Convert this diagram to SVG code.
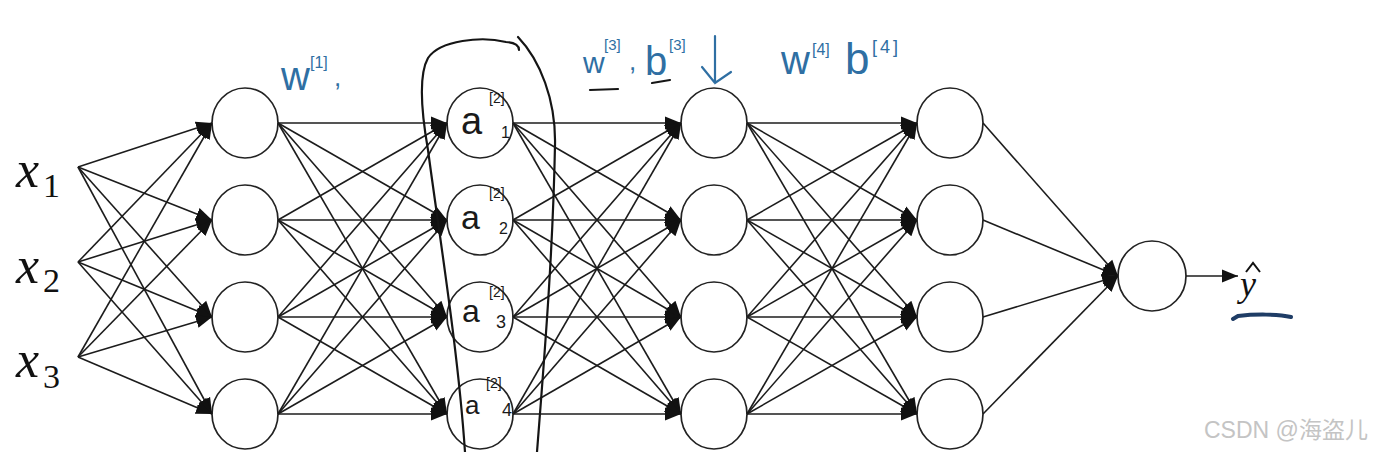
<svg xmlns="http://www.w3.org/2000/svg" width="1388" height="452" viewBox="0 0 1388 452">
<style>
.node{fill:#fff;stroke:#222;stroke-width:1.7}
.edge{stroke:#1c1c1c;stroke-width:1.6;fill:none;marker-end:url(#ah)}
.xl{font-family:"Liberation Serif",serif;font-style:italic;font-size:52px;fill:#111}
.sub{font-family:"Liberation Serif",serif;font-size:34px;fill:#111}
.hw{font-family:"Liberation Sans",sans-serif;fill:#2f6fa3}
.hk{font-family:"Liberation Sans",sans-serif;fill:#1a1a1a}
.pen{fill:none;stroke:#151515;stroke-width:2.2;stroke-linecap:round}
.bpen{fill:none;stroke:#2f6fa3;stroke-width:2.2;stroke-linecap:round}
</style>
<defs>
<marker id="ah" markerUnits="userSpaceOnUse" markerWidth="17" markerHeight="15" refX="16" refY="7.5" orient="auto">
<path d="M0,1 L16,7.5 L0,14 z" fill="#111"/>
</marker>
</defs>
<rect width="1388" height="452" fill="#fff"/>

<g id="inputs">
<text class="xl" x="16" y="187">x</text><text class="sub" x="43" y="197">1</text>
<text class="xl" x="16" y="283">x</text><text class="sub" x="43" y="292">2</text>
<text class="xl" x="16" y="377">x</text><text class="sub" x="43" y="388">3</text>
</g>

<g id="layer1">
<ellipse class="node" cx="245" cy="123" rx="33" ry="35"/>
<ellipse class="node" cx="245" cy="220" rx="33" ry="35"/>
<ellipse class="node" cx="245" cy="317" rx="33" ry="35"/>
<ellipse class="node" cx="245" cy="414" rx="33" ry="35"/>
</g>
<g id="layer2">
<ellipse class="node" cx="480" cy="123" rx="33" ry="35"/>
<ellipse class="node" cx="480" cy="220" rx="33" ry="35"/>
<ellipse class="node" cx="480" cy="317" rx="33" ry="35"/>
<ellipse class="node" cx="480" cy="414" rx="33" ry="35"/>
<text class="hk" x="461" y="134" font-size="38">a</text>
<text class="hk" x="489" y="103" font-size="14">[2]</text>
<text class="hk" x="501" y="138" font-size="16">1</text>
<text class="hk" x="461" y="229" font-size="34">a</text>
<text class="hk" x="489" y="198" font-size="14">[2]</text>
<text class="hk" x="499" y="234" font-size="16">2</text>
<text class="hk" x="462" y="322" font-size="32">a</text>
<text class="hk" x="489" y="297" font-size="14">[2]</text>
<text class="hk" x="496" y="328" font-size="18">3</text>
<text class="hk" x="465" y="414" font-size="26">a</text>
<text class="hk" x="486" y="388" font-size="14">[2]</text>
<text class="hk" x="502" y="416" font-size="18">4</text>
</g>
<g id="layer3">
<ellipse class="node" cx="714" cy="123" rx="33" ry="35"/>
<ellipse class="node" cx="714" cy="220" rx="33" ry="35"/>
<ellipse class="node" cx="714" cy="317" rx="33" ry="35"/>
<ellipse class="node" cx="714" cy="414" rx="33" ry="35"/>
</g>
<g id="layer4">
<ellipse class="node" cx="950" cy="123" rx="33" ry="35"/>
<ellipse class="node" cx="950" cy="220" rx="33" ry="35"/>
<ellipse class="node" cx="950" cy="317" rx="33" ry="35"/>
<ellipse class="node" cx="950" cy="414" rx="33" ry="35"/>
</g>
<g id="output">
<ellipse class="node" cx="1152" cy="276" rx="34" ry="35"/>
<text x="1240" y="296" font-family="Liberation Serif,serif" font-style="italic" font-size="36" fill="#111">y</text>
<path d="M1246,272 L1253,263 L1260,272" fill="none" stroke="#111" stroke-width="2"/>
<path d="M1233,319 L1238,316 C1255,314 1278,314 1291,317" fill="none" stroke="#1f3d66" stroke-width="4" stroke-linecap="round"/>
</g>

<g id="connectors">
<line class="edge" x1="78" y1="167" x2="212" y2="123"/>
<line class="edge" x1="78" y1="167" x2="212" y2="220"/>
<line class="edge" x1="78" y1="167" x2="212" y2="317"/>
<line class="edge" x1="78" y1="167" x2="212" y2="414"/>
<line class="edge" x1="78" y1="262" x2="212" y2="123"/>
<line class="edge" x1="78" y1="262" x2="212" y2="220"/>
<line class="edge" x1="78" y1="262" x2="212" y2="317"/>
<line class="edge" x1="78" y1="262" x2="212" y2="414"/>
<line class="edge" x1="78" y1="357" x2="212" y2="123"/>
<line class="edge" x1="78" y1="357" x2="212" y2="220"/>
<line class="edge" x1="78" y1="357" x2="212" y2="317"/>
<line class="edge" x1="78" y1="357" x2="212" y2="414"/>

<line class="edge" x1="278" y1="123" x2="447" y2="123"/>
<line class="edge" x1="278" y1="123" x2="447" y2="220"/>
<line class="edge" x1="278" y1="123" x2="447" y2="317"/>
<line class="edge" x1="278" y1="123" x2="447" y2="414"/>
<line class="edge" x1="278" y1="220" x2="447" y2="123"/>
<line class="edge" x1="278" y1="220" x2="447" y2="220"/>
<line class="edge" x1="278" y1="220" x2="447" y2="317"/>
<line class="edge" x1="278" y1="220" x2="447" y2="414"/>
<line class="edge" x1="278" y1="317" x2="447" y2="123"/>
<line class="edge" x1="278" y1="317" x2="447" y2="220"/>
<line class="edge" x1="278" y1="317" x2="447" y2="317"/>
<line class="edge" x1="278" y1="317" x2="447" y2="414"/>
<line class="edge" x1="278" y1="414" x2="447" y2="123"/>
<line class="edge" x1="278" y1="414" x2="447" y2="220"/>
<line class="edge" x1="278" y1="414" x2="447" y2="317"/>
<line class="edge" x1="278" y1="414" x2="447" y2="414"/>

<line class="edge" x1="513" y1="123" x2="681" y2="123"/>
<line class="edge" x1="513" y1="123" x2="681" y2="220"/>
<line class="edge" x1="513" y1="123" x2="681" y2="317"/>
<line class="edge" x1="513" y1="123" x2="681" y2="414"/>
<line class="edge" x1="513" y1="220" x2="681" y2="123"/>
<line class="edge" x1="513" y1="220" x2="681" y2="220"/>
<line class="edge" x1="513" y1="220" x2="681" y2="317"/>
<line class="edge" x1="513" y1="220" x2="681" y2="414"/>
<line class="edge" x1="513" y1="317" x2="681" y2="123"/>
<line class="edge" x1="513" y1="317" x2="681" y2="220"/>
<line class="edge" x1="513" y1="317" x2="681" y2="317"/>
<line class="edge" x1="513" y1="317" x2="681" y2="414"/>
<line class="edge" x1="513" y1="414" x2="681" y2="123"/>
<line class="edge" x1="513" y1="414" x2="681" y2="220"/>
<line class="edge" x1="513" y1="414" x2="681" y2="317"/>
<line class="edge" x1="513" y1="414" x2="681" y2="414"/>

<line class="edge" x1="747" y1="123" x2="917" y2="123"/>
<line class="edge" x1="747" y1="123" x2="917" y2="220"/>
<line class="edge" x1="747" y1="123" x2="917" y2="317"/>
<line class="edge" x1="747" y1="123" x2="917" y2="414"/>
<line class="edge" x1="747" y1="220" x2="917" y2="123"/>
<line class="edge" x1="747" y1="220" x2="917" y2="220"/>
<line class="edge" x1="747" y1="220" x2="917" y2="317"/>
<line class="edge" x1="747" y1="220" x2="917" y2="414"/>
<line class="edge" x1="747" y1="317" x2="917" y2="123"/>
<line class="edge" x1="747" y1="317" x2="917" y2="220"/>
<line class="edge" x1="747" y1="317" x2="917" y2="317"/>
<line class="edge" x1="747" y1="317" x2="917" y2="414"/>
<line class="edge" x1="747" y1="414" x2="917" y2="123"/>
<line class="edge" x1="747" y1="414" x2="917" y2="220"/>
<line class="edge" x1="747" y1="414" x2="917" y2="317"/>
<line class="edge" x1="747" y1="414" x2="917" y2="414"/>

<line class="edge" x1="983" y1="123" x2="1118" y2="276"/>
<line class="edge" x1="983" y1="220" x2="1118" y2="276"/>
<line class="edge" x1="983" y1="317" x2="1118" y2="276"/>
<line class="edge" x1="983" y1="414" x2="1118" y2="276"/>

<line class="edge" x1="1186" y1="276" x2="1238" y2="276"/>
</g>

<g id="annotations">
<path class="pen" d="M518,37 C540,60 556,100 555,145 C553,250 545,350 537,452"/>
<path class="pen" d="M519,50 Q519,43 506,42 C482,36 440,40 428,58 C419,74 421,110 428,150 C440,240 458,350 465,452"/>
<text class="hw" x="281" y="90" font-size="40">w</text>
<text class="hw" x="310" y="68" font-size="16">[1]</text>
<text class="hw" x="334" y="86" font-size="26">,</text>
<text class="hw" x="583" y="73" font-size="30">w</text>
<text class="hw" x="604" y="50" font-size="15">[3]</text>
<text class="hw" x="629" y="70" font-size="26">,</text>
<text class="hw" x="645" y="75" font-size="40">b</text>
<text class="hw" x="669" y="50" font-size="15">[3]</text>
<line class="pen" x1="590" y1="90" x2="618" y2="89"/>
<line class="pen" x1="652" y1="83" x2="670" y2="80"/>
<path class="bpen" d="M715,36 L715,83 M702,67 L715,83 L731,72"/>
<text class="hw" x="781" y="74" font-size="40">w</text>
<text class="hw" x="812" y="55" font-size="16">[4]</text>
<text class="hw" x="845" y="74" font-size="44">b</text>
<text class="hw" x="872" y="53" font-size="18" letter-spacing="3">[4]</text>
</g>

<g id="watermark">
<text x="1204" y="438" font-family="Liberation Sans,Noto Sans CJK SC,sans-serif" font-size="23" fill="#c4c4c4">CSDN @海盗儿</text>
</g>
</svg>
